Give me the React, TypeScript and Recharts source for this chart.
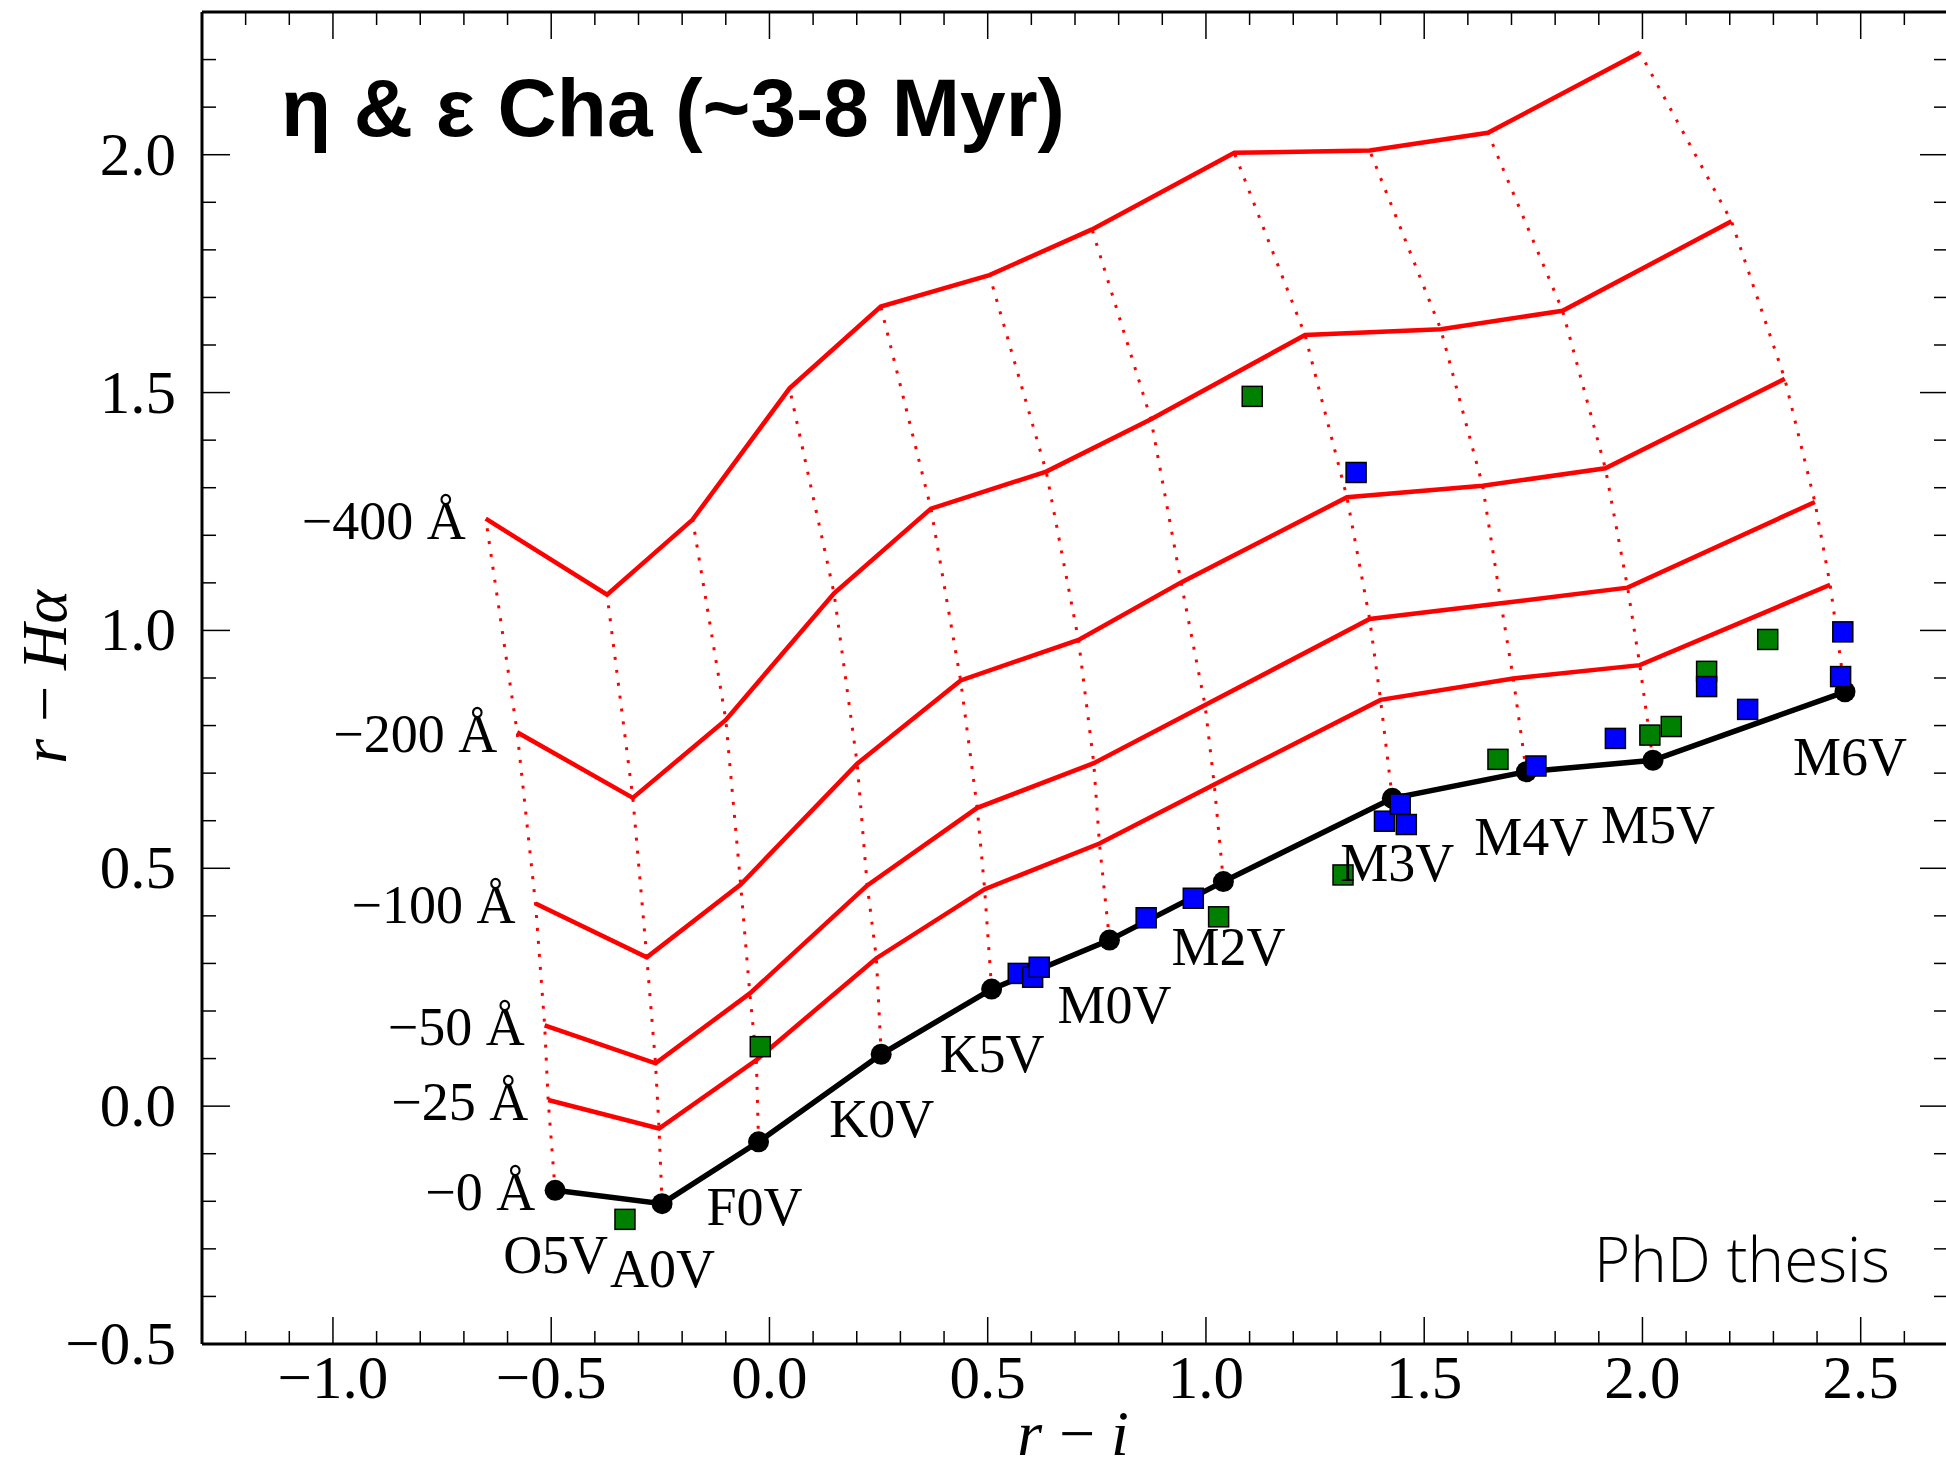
import { ScatterChart, Scatter, XAxis, YAxis } from 'recharts'

const spectralTypes = ['O5V', 'A0V', 'F0V', 'K0V', 'K5V', 'M0V', 'M2V', 'M3V', 'M4V', 'M5V', 'M6V']
const ewLabels = ['−0 Å', '−25 Å', '−50 Å', '−100 Å', '−200 Å', '−400 Å']

// main sequence (0 Å) and lines of constant Hα equivalent width: r-i, r-Hα
const ms_ri = [-0.491, -0.246, -0.025, 0.256, 0.509, 0.779, 1.04, 1.427, 1.734, 2.024, 2.464]
const ms_rha = [-0.177, -0.205, -0.075, 0.109, 0.246, 0.349, 0.472, 0.647, 0.703, 0.727, 0.871]
const ew25_ri = [-0.507, -0.253, -0.03, 0.245, 0.493, 0.756, 1.019, 1.4, 1.704, 1.994, 2.43]
const ew25_rha = [0.013, -0.047, 0.097, 0.311, 0.456, 0.552, 0.676, 0.854, 0.899, 0.927, 1.096]
const ew50_ri = [-0.515, -0.261, -0.045, 0.224, 0.476, 0.743, 0.998, 1.375, 1.676, 1.966, 2.395]
const ew50_rha = [0.17, 0.09, 0.237, 0.464, 0.627, 0.721, 0.843, 1.024, 1.057, 1.09, 1.27]
const ew100_ri = [-0.536, -0.281, -0.066, 0.201, 0.438, 0.708, 0.943, 1.323, 1.634, 1.915, 2.326]
const ew100_rha = [0.426, 0.313, 0.466, 0.72, 0.895, 0.98, 1.101, 1.28, 1.304, 1.341, 1.529]
const ew200_ri = [-0.578, -0.313, -0.1, 0.148, 0.37, 0.634, 0.874, 1.227, 1.538, 1.817, 2.204]
const ew200_rha = [0.786, 0.648, 0.812, 1.078, 1.256, 1.334, 1.444, 1.621, 1.633, 1.672, 1.86]
const ew400_ri = [-0.65, -0.372, -0.176, 0.046, 0.255, 0.504, 0.739, 1.065, 1.375, 1.646, 1.994]
const ew400_rha = [1.235, 1.075, 1.233, 1.509, 1.681, 1.747, 1.843, 2.004, 2.009, 2.046, 2.215]

// cluster members
const blue_ri = [0.57, 0.603, 0.618, 0.863, 0.971, 1.344, 1.409, 1.445, 1.459, 1.756, 1.938, 2.147, 2.241, 2.454, 2.459]
const blue_rha = [0.279, 0.271, 0.292, 0.396, 0.437, 1.332, 0.599, 0.635, 0.592, 0.715, 0.773, 0.882, 0.834, 0.903, 0.997]
const green_ri = [-0.331, -0.021, 1.029, 1.106, 1.314, 1.669, 2.017, 2.066, 2.147, 2.287]
const green_rha = [-0.238, 0.125, 0.398, 1.492, 0.486, 0.729, 0.78, 0.798, 0.914, 0.981]

const xMajor = [-1.0, -0.5, 0.0, 0.5, 1.0, 1.5, 2.0, 2.5]
const yMajor = [-0.5, 0.0, 0.5, 1.0, 1.5, 2.0]

const SERIF = "'Liberation Serif', 'Times New Roman', serif"

const tenths = (lo: number, hi: number) => {
  const out: number[] = []
  for (let k = Math.round(lo * 10); k <= Math.round(hi * 10); k++) out.push(k / 10)
  return out
}
const xTicks = tenths(-1.2, 2.6)
const yTicks = tenths(-0.5, 2.2)
const isMajor = (list: number[], v: number) => list.some((m) => Math.abs(m - v) < 1e-6)
const fmt = (v: number) => v.toFixed(1).replace('-', '−')

const pts = (xs: number[], ys: number[], labels?: string[]) =>
  xs.map((x, i) => ({ x, y: ys[i], label: labels ? labels[i] : '' }))

const levels = [
  [ms_ri, ms_rha],
  [ew25_ri, ew25_rha],
  [ew50_ri, ew50_rha],
  [ew100_ri, ew100_rha],
  [ew200_ri, ew200_rha],
  [ew400_ri, ew400_rha],
]
const tracks = spectralTypes.map((_, i) => levels.map(([xs, ys]) => ({ x: xs[i], y: ys[i] })))
const redLines = levels.slice(1).map(([xs, ys]) => pts(xs, ys))
const msPoints = pts(ms_ri, ms_rha, spectralTypes)
const ewLabelPoints = levels.map(([xs, ys], k) => ({ x: xs[0], y: ys[0], label: ewLabels[k] }))
const bluePoints = pts(blue_ri, blue_rha)
const greenPoints = pts(green_ri, green_rha)

const noShape = () => <g />

const BottomTick = ({ x, y, payload }: any) => {
  const major = isMajor(xMajor, payload.value)
  return (
    <g>
      <line x1={x} x2={x} y1={y} y2={y - (major ? 27 : 13)} stroke="#000" strokeWidth={1.5} />
      {major && (
        <text x={x} y={y + 54} textAnchor="middle" fontFamily={SERIF} fontSize={61} fill="#000">
          {fmt(payload.value)}
        </text>
      )}
    </g>
  )
}

const TopTick = ({ x, y, payload }: any) => {
  const major = isMajor(xMajor, payload.value)
  return <line x1={x} x2={x} y1={y} y2={y + (major ? 27 : 13)} stroke="#000" strokeWidth={1.5} />
}

const LeftTick = ({ x, y, payload }: any) => {
  const major = isMajor(yMajor, payload.value)
  return (
    <g>
      <line x1={x} x2={x + (major ? 28 : 14)} y1={y} y2={y} stroke="#000" strokeWidth={1.5} />
      {major && (
        <text x={x - 26} y={y + 20} textAnchor="end" fontFamily={SERIF} fontSize={61} fill="#000">
          {fmt(payload.value)}
        </text>
      )}
    </g>
  )
}

const RightTick = ({ x, y, payload }: any) => {
  const major = isMajor(yMajor, payload.value)
  return <line x1={x} x2={x - (major ? 28 : 14)} y1={y} y2={y} stroke="#000" strokeWidth={1.5} />
}

const frame = { stroke: '#000', strokeWidth: 3 }

export default function App() {
  return (
    <div style={{ position: 'absolute', left: 0, top: 0, width: 1946, height: 1468, background: '#fff', overflow: 'hidden' }}>
      <ScatterChart width={1946} height={1468} margin={{ top: 11, right: -3, bottom: 123, left: 201 }}>
        <XAxis type="number" dataKey="x" domain={[-1.3, 2.7]} allowDataOverflow ticks={xTicks} interval={0}
          height={1} tickSize={0} tickMargin={0} tickLine={false} axisLine={frame} tick={BottomTick} />
        <XAxis xAxisId="top" orientation="top" type="number" dataKey="x" domain={[-1.3, 2.7]} allowDataOverflow
          ticks={xTicks} interval={0} height={1} tickSize={0} tickMargin={0} tickLine={false} axisLine={frame} tick={TopTick} />
        <YAxis type="number" dataKey="y" domain={[-0.5, 2.3]} allowDataOverflow ticks={yTicks} interval={0}
          width={1} tickSize={0} tickMargin={0} tickLine={false} axisLine={frame} tick={LeftTick} />
        <YAxis yAxisId="right" orientation="right" type="number" dataKey="y" domain={[-0.5, 2.3]} allowDataOverflow
          ticks={yTicks} interval={0} width={1} tickSize={0} tickMargin={0} tickLine={false} axisLine={frame} tick={RightTick} />

        {tracks.map((t, i) => (
          <Scatter key={`track-${i}`} data={t} fill="none" shape={noShape} isAnimationActive={false}
            line={{ stroke: '#ff0000', strokeWidth: 3, strokeDasharray: '3 10' }} />
        ))}
        {redLines.map((l, i) => (
          <Scatter key={`ew-${i}`} data={l} fill="none" shape={noShape} isAnimationActive={false}
            line={{ stroke: '#ff0000', strokeWidth: 4.5 }} />
        ))}
        <Scatter data={msPoints} fill="#000" isAnimationActive={false} line={{ stroke: '#000', strokeWidth: 5.5 }}
          shape={(p: any) => <circle cx={p.cx} cy={p.cy} r={10.5} fill="#000" />} />
        <Scatter data={greenPoints} isAnimationActive={false}
          shape={(p: any) => <rect x={p.cx - 10} y={p.cy - 10} width={20} height={20} fill="#008000" stroke="#000" strokeWidth={1.5} />} />
        <Scatter data={bluePoints} isAnimationActive={false}
          shape={(p: any) => <rect x={p.cx - 10} y={p.cy - 10} width={20} height={20} fill="#0000ff" stroke="#000" strokeWidth={1.5} />} />
        <Scatter data={msPoints} isAnimationActive={false}
          shape={(p: any) => (
            <text x={p.cx - 52} y={p.cy + 83} fontFamily={SERIF} fontSize={54} fill="#000">{p.payload.label}</text>
          )} />
        <Scatter data={ewLabelPoints} isAnimationActive={false}
          shape={(p: any) => (
            <text x={p.cx - 20} y={p.cy + 20} textAnchor="end" fontFamily={SERIF} fontSize={54} fill="#000">{p.payload.label}</text>
          )} />
      </ScatterChart>
      <svg width={1946} height={1468} style={{ position: 'absolute', left: 0, top: 0, pointerEvents: 'none' }}>
        <text x={281} y={136} fontFamily="'Liberation Sans', Arial, sans-serif" fontWeight="bold" fontSize={82} fill="#000">
          η &amp; ε Cha (~3-8 Myr)
        </text>
        <text x={1890} y={1282} textAnchor="end" fontFamily="'Open Sans', sans-serif" fontWeight={300} fontSize={62} fill="#000">
          PhD thesis
        </text>
        <text x={1073} y={1455} textAnchor="middle" fontFamily={SERIF} fontStyle="italic" fontSize={64} fill="#000">
          r{'\u2009−\u2009'}i
        </text>
        <text transform="translate(66 677) rotate(-90)" textAnchor="middle" fontFamily={SERIF} fontStyle="italic" fontSize={64} fill="#000">
          r{'\u2009−\u2009'}Hα
        </text>
      </svg>
    </div>
  )
}
